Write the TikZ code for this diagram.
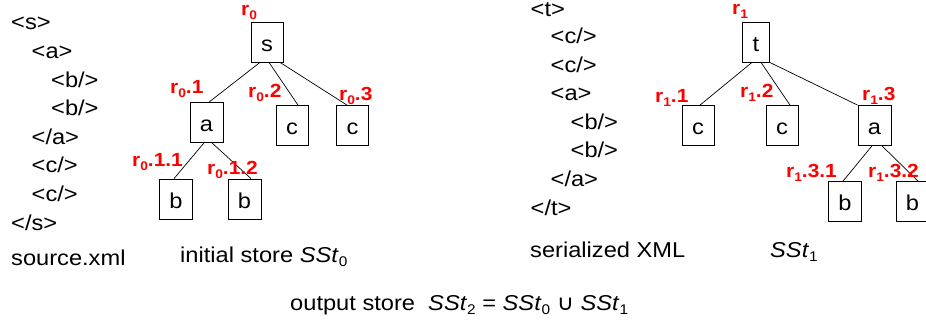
\documentclass[tikz,border=0pt]{standalone}
\usepackage{fontspec}
\setmainfont[FakeStretch=1.1]{Liberation Sans}
\newfontfamily\symfnt[FakeStretch=1.1]{DejaVu Sans}
\newcommand\lsub[1]{\raisebox{-4pt}{\fontsize{12.5}{13}\selectfont #1}}
\newcommand\tsub[1]{\raisebox{-4.5pt}{\fontsize{14}{14}\selectfont #1}}
\tikzset{
  xmltext/.style={anchor=base west, inner sep=0pt, font=\fontsize{21.5}{24}\selectfont},
  treebox/.style={draw, line width=0.8pt, inner xsep=10pt, inner ysep=10.5pt,
    text height=19pt, text depth=0pt, font=\fontsize{21.5}{24}\selectfont},
  rlabel/.style={anchor=base west, inner sep=0pt, text=red,
    font=\fontsize{19}{20}\selectfont\bfseries},
  treeline/.style={line width=0.7pt}
}
\begin{document}
\begin{tikzpicture}[x=1pt,y=-1pt]
\useasboundingbox[fill=white] (0,0) rectangle (926,323);
% ---- source.xml column
\node[xmltext] (l1) at (11,30) {<s>};
\node[xmltext] (l2) at (31.5,58.6) {<a>};
\node[xmltext] (l3) at (51,87.2) {<b/>};
\node[xmltext] (l4) at (51,115.7) {<b/>};
\node[xmltext] (l5) at (31.5,144.3) {</a>};
\node[xmltext] (l6) at (31.5,172.9) {<c/>};
\node[xmltext] (l7) at (31.5,201.4) {<c/>};
\node[xmltext] (l8) at (11,230) {</s>};
\node[xmltext] (cap1) at (11,265) {source.xml};
\node[xmltext] (cap2) at (180,262) {initial store \textit{SSt}\tsub{0}};
% ---- tree 0
\node[treebox] (s) at (267,42) {s};
\node[treebox] (a0) at (206.5,122.5) {a};
\node[treebox] (c01) at (292,125.5) {c};
\node[treebox] (c02) at (352.5,125.5) {c};
\node[treebox] (b01) at (176,199) {b};
\node[treebox] (b02) at (244.5,199) {b};
\draw[treeline] ([xshift=-7pt]s.south) -- ([xshift=2.5pt]a0.north);
\draw[treeline] ([xshift=2pt]s.south) -- ([xshift=6pt]c01.north);
\draw[treeline] ([xshift=13pt]s.south) -- ([xshift=-5.5pt]c02.north);
\draw[treeline] ([xshift=-2.5pt]a0.south) -- ([xshift=-2pt]b01.north);
\draw[treeline] ([xshift=5.5pt]a0.south) -- ([xshift=6.5pt]b02.north);
\node[rlabel] (r0) at (241,15.5) {r\lsub{0}};
\node[rlabel] (r01) at (170,94) {r\lsub{0}.1};
\node[rlabel] (r02) at (248,98) {r\lsub{0}.2};
\node[rlabel] (r03) at (339,101) {r\lsub{0}.3};
\node[rlabel] (r011) at (132,167) {r\lsub{0}.1.1};
\node[rlabel] (r012) at (207,175) {r\lsub{0}.1.2};
% ---- serialized XML column
\node[xmltext] (m1) at (530.5,16.5) {<t>};
\node[xmltext] (m2) at (550.5,43.6) {<c/>};
\node[xmltext] (m3) at (550.5,72.2) {<c/>};
\node[xmltext] (m4) at (550.5,100.8) {<a>};
\node[xmltext] (m5) at (570.5,129.4) {<b/>};
\node[xmltext] (m6) at (570.5,158) {<b/>};
\node[xmltext] (m7) at (550.5,186.6) {</a>};
\node[xmltext] (m8) at (530.5,215.2) {</t>};
\node[xmltext] (cap3) at (530,257) {serialized XML};
\node[xmltext] (cap4) at (770,257) {\textit{SSt}\tsub{1}};
% ---- tree 1
\node[treebox] (t) at (756,42) {t};
\node[treebox] (c11) at (698,125.5) {c};
\node[treebox] (c12) at (782,125.5) {c};
\node[treebox] (a13) at (874.5,125.5) {a};
\node[treebox] (b131) at (845,201.5) {b};
\node[treebox] (b132) at (912.5,201.5) {b};
\draw[treeline] ([xshift=-4pt]t.south) -- ([xshift=2pt]c11.north);
\draw[treeline] ([xshift=5pt]t.south) -- ([xshift=8pt]c12.north);
\draw[treeline] (t.south east) -- (a13.north west);
\draw[treeline] ([xshift=-2.5pt]a13.south) -- ([xshift=-2pt]b131.north);
\draw[treeline] ([xshift=7.5pt]a13.south) -- ([xshift=5.5pt]b132.north);
\node[rlabel] (r1) at (732,15) {r\lsub{1}};
\node[rlabel] (r11) at (655,103) {r\lsub{1}.1};
\node[rlabel] (r12) at (740,98) {r\lsub{1}.2};
\node[rlabel] (r13) at (862,101) {r\lsub{1}.3};
\node[rlabel] (r131) at (786,178) {r\lsub{1}.3.1};
\node[rlabel] (r132) at (868,178) {r\lsub{1}.3.2};
% ---- bottom line
\node[xmltext] (out) at (290,310) {output store\ \ \textit{SSt}\tsub{2} = \textit{SSt}\tsub{0} {\symfnt ∪} \textit{SSt}\tsub{1}};
\end{tikzpicture}
\end{document}
